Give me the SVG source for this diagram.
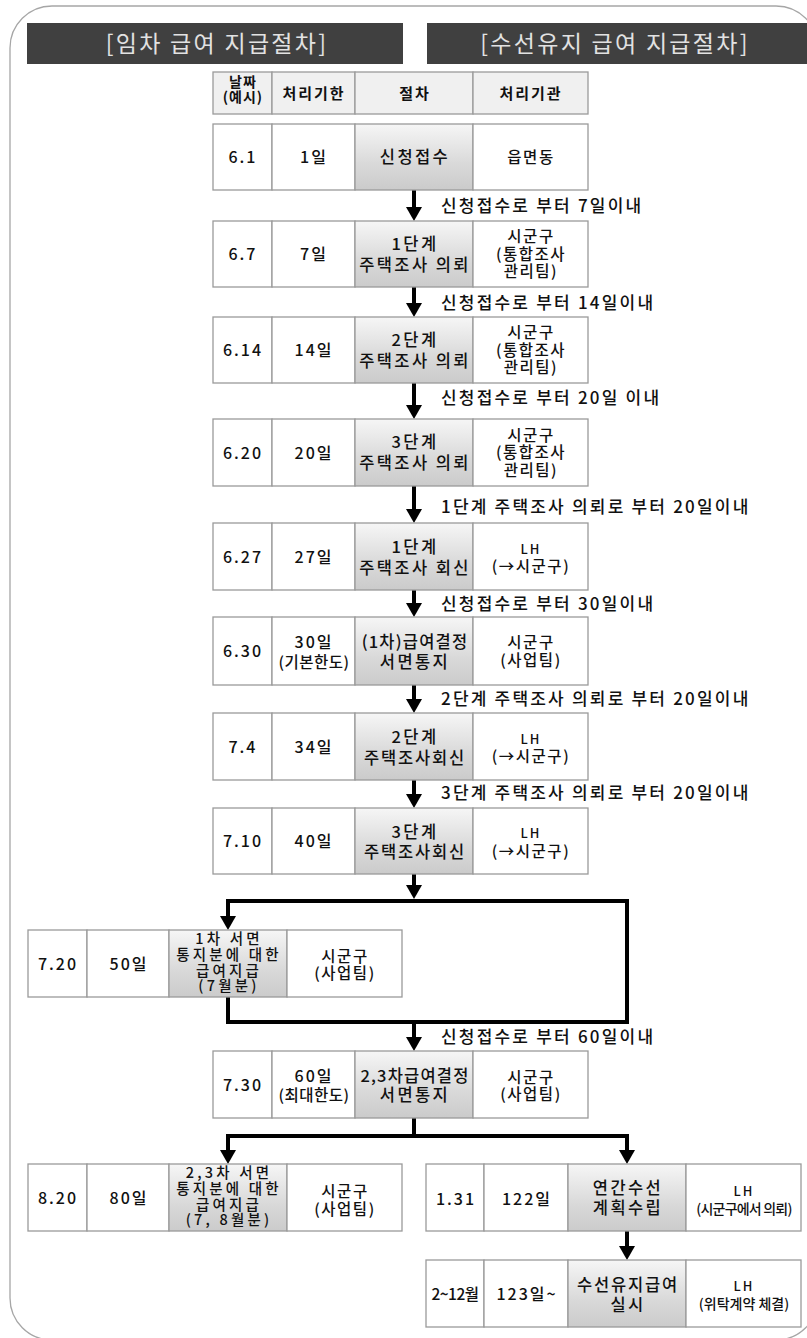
<svg xmlns="http://www.w3.org/2000/svg" width="807" height="1338" viewBox="0 0 807 1338">
<defs>
<linearGradient id="pg" x1="0" y1="0" x2="0" y2="1">
<stop offset="0" stop-color="#f6f6f6"/>
<stop offset="0.6" stop-color="#d9d9d9"/>
<stop offset="1" stop-color="#cbcbcb"/>
</linearGradient>
<marker id="ah" viewBox="0 0 14 16" markerWidth="14" markerHeight="16" refX="4" refY="8" orient="auto" markerUnits="userSpaceOnUse">
<path d="M0,0 L14,8 L0,16 z" fill="#000"/>
</marker>
<style>
.c{fill:#fff;stroke:#9a9a9a;stroke-width:1.3}
.p{fill:url(#pg);stroke:#9a9a9a;stroke-width:1.3}
.hd{fill:#f0f0f0;stroke:#9a9a9a;stroke-width:1.3}
.bar{fill:#404040}
.t{font-family:"Noto Sans CJK KR","Noto Sans",sans-serif;font-size:16.5px;font-weight:500;fill:#111;text-anchor:middle;letter-spacing:2.4px}
.n{font-size:16px;letter-spacing:2px}
.s{font-size:15.5px;letter-spacing:1.5px}
.f{font-size:14.5px;letter-spacing:3.2px}
.lh{font-size:13px;letter-spacing:2px}
.sm{font-size:14px;letter-spacing:-0.8px}
.h{font-weight:bold;font-size:15px;letter-spacing:2px}
.h2{font-weight:bold;font-size:14px;letter-spacing:1px}
.lbl{text-anchor:start;font-size:17px;letter-spacing:2.2px}
.ttl{font-size:23px;font-weight:400;fill:#e2e2e2;letter-spacing:2.3px}
.ln{fill:none;stroke:#000;stroke-width:4;stroke-linejoin:miter}
</style>
</defs>
<rect x="0" y="0" width="807" height="1338" fill="#fff"/>
<rect x="10" y="6" width="808" height="1334" rx="42" fill="none" stroke="#a6a6a6" stroke-width="1.3"/>

<g id="title-lease">
<rect class="bar" x="27" y="23" width="376" height="41"/>
<text class="t ttl" x="217" y="52">[임차 급여 지급절차]</text>
</g>
<g id="title-repair">
<rect class="bar" x="427" y="23" width="390" height="41"/>
<text class="t ttl" x="615" y="52">[수선유지 급여 지급절차]</text>
</g>

<g id="header">
<rect class="hd" x="213" y="72" width="59" height="42"/>
<rect class="hd" x="272" y="72" width="83" height="42"/>
<rect class="hd" x="355" y="72" width="118" height="42"/>
<rect class="hd" x="473" y="72" width="115" height="42"/>
<text class="t h2" x="243" y="87">날짜</text>
<text class="t h2" x="243" y="102">(예시)</text>
<text class="t h" x="314" y="98.5">처리기한</text>
<text class="t h" x="415" y="98.5">절차</text>
<text class="t h" x="531" y="98.5">처리기관</text>
</g>

<g id="connectors">
<path class="ln" d="M414,190 V211" marker-end="url(#ah)"/>
<path class="ln" d="M414,287 V307" marker-end="url(#ah)"/>
<path class="ln" d="M414,383 V409" marker-end="url(#ah)"/>
<path class="ln" d="M414,486 V513" marker-end="url(#ah)"/>
<path class="ln" d="M414,590 V607" marker-end="url(#ah)"/>
<path class="ln" d="M414,685 V703" marker-end="url(#ah)"/>
<path class="ln" d="M414,780 V798" marker-end="url(#ah)"/>
<path class="ln" d="M414,874 V889" marker-end="url(#ah)"/>
<path class="ln" d="M228,997 V1022 H627 V901 H228 V920" marker-end="url(#ah)"/>
<path class="ln" d="M414,1022 V1041" marker-end="url(#ah)"/>
<path class="ln" d="M414,1118 V1136 H228 V1154" marker-end="url(#ah)"/>
<path class="ln" d="M414,1136 H627 V1154" marker-end="url(#ah)"/>
<path class="ln" d="M627,1231 V1250" marker-end="url(#ah)"/>
<text class="t lbl" x="441" y="212">신청접수로 부터 7일이내</text>
<text class="t lbl" x="441" y="309">신청접수로 부터 14일이내</text>
<text class="t lbl" x="441" y="404">신청접수로 부터 20일 이내</text>
<text class="t lbl" x="441" y="513">1단계 주택조사 의뢰로 부터 20일이내</text>
<text class="t lbl" x="441" y="610">신청접수로 부터 30일이내</text>
<text class="t lbl" x="441" y="705">2단계 주택조사 의뢰로 부터 20일이내</text>
<text class="t lbl" x="441" y="799">3단계 주택조사 의뢰로 부터 20일이내</text>
<text class="t lbl" x="441" y="1043">신청접수로 부터 60일이내</text>
</g>

<g id="row-0601">
<rect class="c" x="213" y="124" width="59" height="66"/>
<rect class="c" x="272" y="124" width="83" height="66"/>
<rect class="p" x="355" y="124" width="118" height="66"/>
<rect class="c" x="473" y="124" width="115" height="66"/>
<text class="t n" x="243" y="163">6.1</text>
<text class="t n" x="314" y="163">1일</text>
<text class="t" x="415" y="163">신청접수</text>
<text class="t s" x="531" y="162.5">읍면동</text>
</g>

<g id="row-0607">
<rect class="c" x="213" y="221" width="59" height="66"/>
<rect class="c" x="272" y="221" width="83" height="66"/>
<rect class="p" x="355" y="221" width="118" height="66"/>
<rect class="c" x="473" y="221" width="115" height="66"/>
<text class="t n" x="243" y="260">6.7</text>
<text class="t n" x="314" y="260">7일</text>
<text class="t" x="415" y="249.5">1단계</text>
<text class="t" x="415" y="270.5">주택조사 의뢰</text>
<text class="t s" x="531" y="242">시군구</text>
<text class="t s" x="531" y="259.5">(통합조사</text>
<text class="t s" x="531" y="277">관리팀)</text>
</g>

<g id="row-0614">
<rect class="c" x="213" y="317" width="59" height="66"/>
<rect class="c" x="272" y="317" width="83" height="66"/>
<rect class="p" x="355" y="317" width="118" height="66"/>
<rect class="c" x="473" y="317" width="115" height="66"/>
<text class="t n" x="243" y="356">6.14</text>
<text class="t n" x="314" y="356">14일</text>
<text class="t" x="415" y="345.5">2단계</text>
<text class="t" x="415" y="366.5">주택조사 의뢰</text>
<text class="t s" x="531" y="338">시군구</text>
<text class="t s" x="531" y="355.5">(통합조사</text>
<text class="t s" x="531" y="373">관리팀)</text>
</g>

<g id="row-0620">
<rect class="c" x="213" y="419" width="59" height="67"/>
<rect class="c" x="272" y="419" width="83" height="67"/>
<rect class="p" x="355" y="419" width="118" height="67"/>
<rect class="c" x="473" y="419" width="115" height="67"/>
<text class="t n" x="243" y="458.5">6.20</text>
<text class="t n" x="314" y="458.5">20일</text>
<text class="t" x="415" y="448">3단계</text>
<text class="t" x="415" y="469">주택조사 의뢰</text>
<text class="t s" x="531" y="440.5">시군구</text>
<text class="t s" x="531" y="458">(통합조사</text>
<text class="t s" x="531" y="475.5">관리팀)</text>
</g>

<g id="row-0627">
<rect class="c" x="213" y="523" width="59" height="67"/>
<rect class="c" x="272" y="523" width="83" height="67"/>
<rect class="p" x="355" y="523" width="118" height="67"/>
<rect class="c" x="473" y="523" width="115" height="67"/>
<text class="t n" x="243" y="562.5">6.27</text>
<text class="t n" x="314" y="562.5">27일</text>
<text class="t" x="415" y="553">1단계</text>
<text class="t" x="415" y="573.5">주택조사 회신</text>
<text class="t lh" x="531" y="553.5">LH</text>
<text class="t s" x="531" y="572">(→시군구)</text>
</g>

<g id="row-0630">
<rect class="c" x="213" y="617" width="59" height="68"/>
<rect class="c" x="272" y="617" width="83" height="68"/>
<rect class="p" x="355" y="617" width="118" height="68"/>
<rect class="c" x="473" y="617" width="115" height="68"/>
<text class="t n" x="243" y="657">6.30</text>
<text class="t n" x="314" y="647.5">30일</text>
<text class="t s" x="314" y="668" style="letter-spacing:0.5px">(기본한도)</text>
<text class="t" x="415" y="647.5" style="letter-spacing:1.2px">(1차)급여결정</text>
<text class="t" x="415" y="668">서면통지</text>
<text class="t s" x="531" y="647.5">시군구</text>
<text class="t s" x="531" y="666">(사업팀)</text>
</g>

<g id="row-0704">
<rect class="c" x="213" y="713" width="59" height="67"/>
<rect class="c" x="272" y="713" width="83" height="67"/>
<rect class="p" x="355" y="713" width="118" height="67"/>
<rect class="c" x="473" y="713" width="115" height="67"/>
<text class="t n" x="243" y="752.5">7.4</text>
<text class="t n" x="314" y="752.5">34일</text>
<text class="t" x="415" y="743">2단계</text>
<text class="t" x="415" y="763.5" style="letter-spacing:1.8px">주택조사회신</text>
<text class="t lh" x="531" y="743.5">LH</text>
<text class="t s" x="531" y="762">(→시군구)</text>
</g>

<g id="row-0710">
<rect class="c" x="213" y="808" width="59" height="66"/>
<rect class="c" x="272" y="808" width="83" height="66"/>
<rect class="p" x="355" y="808" width="118" height="66"/>
<rect class="c" x="473" y="808" width="115" height="66"/>
<text class="t n" x="243" y="847">7.10</text>
<text class="t n" x="314" y="847">40일</text>
<text class="t" x="415" y="837.5">3단계</text>
<text class="t" x="415" y="858" style="letter-spacing:1.8px">주택조사회신</text>
<text class="t lh" x="531" y="838">LH</text>
<text class="t s" x="531" y="856.5">(→시군구)</text>
</g>

<g id="row-0720">
<rect class="c" x="28" y="930" width="59" height="67"/>
<rect class="c" x="87" y="930" width="82" height="67"/>
<rect class="p" x="169" y="930" width="118" height="67"/>
<rect class="c" x="287" y="930" width="115" height="67"/>
<text class="t n" x="58" y="969.5">7.20</text>
<text class="t n" x="129" y="969.5">50일</text>
<text class="t f" x="229" y="944">1차 서면</text>
<text class="t f" x="229" y="960">통지분에 대한</text>
<text class="t f" x="229" y="975.5">급여지급</text>
<text class="t f" x="229" y="991">(7월분)</text>
<text class="t s" x="345" y="961.5">시군구</text>
<text class="t s" x="345" y="979">(사업팀)</text>
</g>

<g id="row-0730">
<rect class="c" x="213" y="1051" width="59" height="67"/>
<rect class="c" x="272" y="1051" width="83" height="67"/>
<rect class="p" x="355" y="1051" width="118" height="67"/>
<rect class="c" x="473" y="1051" width="115" height="67"/>
<text class="t n" x="243" y="1090.5">7.30</text>
<text class="t n" x="314" y="1082">60일</text>
<text class="t s" x="314" y="1101" style="letter-spacing:0.5px">(최대한도)</text>
<text class="t" x="415" y="1082" style="letter-spacing:1.2px">2,3차급여결정</text>
<text class="t" x="415" y="1101">서면통지</text>
<text class="t s" x="531" y="1082.5">시군구</text>
<text class="t s" x="531" y="1100">(사업팀)</text>
</g>

<g id="row-0820">
<rect class="c" x="28" y="1164" width="59" height="67"/>
<rect class="c" x="87" y="1164" width="82" height="67"/>
<rect class="p" x="169" y="1164" width="118" height="67"/>
<rect class="c" x="287" y="1164" width="115" height="67"/>
<text class="t n" x="58" y="1203.5">8.20</text>
<text class="t n" x="129" y="1203.5">80일</text>
<text class="t f" x="229" y="1178">2,3차 서면</text>
<text class="t f" x="229" y="1194">통지분에 대한</text>
<text class="t f" x="229" y="1209.5">급여지급</text>
<text class="t f" x="229" y="1225">(7, 8월분)</text>
<text class="t s" x="345" y="1197">시군구</text>
<text class="t s" x="345" y="1215">(사업팀)</text>
</g>

<g id="row-0131">
<rect class="c" x="426" y="1164" width="58" height="67"/>
<rect class="c" x="484" y="1164" width="84" height="67"/>
<rect class="p" x="568" y="1164" width="118" height="67"/>
<rect class="c" x="686" y="1164" width="115" height="67"/>
<text class="t n" x="456" y="1204.5">1.31</text>
<text class="t n" x="527" y="1204.5">122일</text>
<text class="t" x="628" y="1194">연간수선</text>
<text class="t" x="628" y="1214">계획수립</text>
<text class="t lh" x="744" y="1196">LH</text>
<text class="t sm" x="744" y="1213.5">(시군구에서 의뢰)</text>
</g>

<g id="row-0212">
<rect class="c" x="426" y="1260" width="58" height="67"/>
<rect class="c" x="484" y="1260" width="84" height="67"/>
<rect class="p" x="568" y="1260" width="118" height="67"/>
<rect class="c" x="686" y="1260" width="115" height="67"/>
<text class="t s" x="455" y="1300" style="letter-spacing:-0.5px">2~12월</text>
<text class="t n" x="527" y="1300">123일~</text>
<text class="t" x="628" y="1291" style="letter-spacing:1.8px">수선유지급여</text>
<text class="t" x="628" y="1311">실시</text>
<text class="t lh" x="744" y="1290.5">LH</text>
<text class="t sm" x="744" y="1309" style="letter-spacing:0">(위탁계약 체결)</text>
</g>
</svg>
